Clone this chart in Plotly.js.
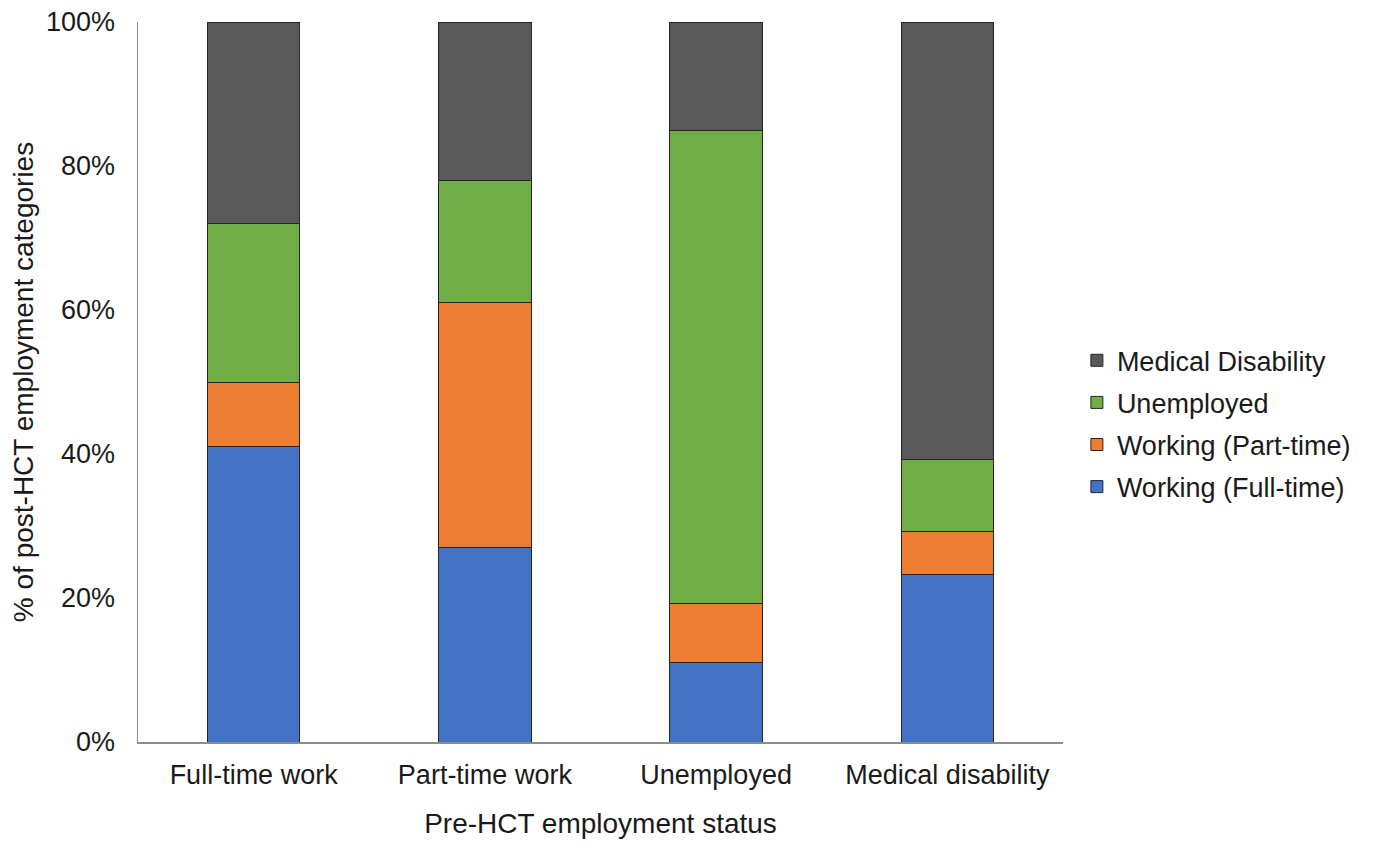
<!DOCTYPE html>
<html>
<head>
<meta charset="utf-8">
<script src="https://cdn.plot.ly/plotly-3.0.1.min.js"></script>
<style>html,body{margin:0;padding:0;background:#fff;}#chart{width:1373px;height:848px;}</style>
</head>
<body>
<div id="chart"></div>
<script>
const categories = ["Full-time work", "Part-time work", "Unemployed", "Medical disability"];
const workingFullTime = [41, 27, 11, 23.2];
const workingPartTime = [9, 34, 8.2, 6.1];
const unemployed = [22, 17, 65.8, 10.0];
const medicalDisability = [28, 22, 15, 60.7];
const seriesNames = ["Working (Full-time)", "Working (Part-time)", "Unemployed", "Medical Disability"];
const seriesColors = ["#4472C4", "#ED7D31", "#70AD47", "#595959"];
const yTickVals = [0, 20, 40, 60, 80, 100];
const yTickText = ["0%", "20%", "40%", "60%", "80%", "100%"];

const seriesValues = [workingFullTime, workingPartTime, unemployed, medicalDisability];
const traces = seriesValues.map((vals, i) => ({
  type: 'bar',
  name: seriesNames[i],
  legendgroup: 'g' + i,
  legendrank: 1000 - i,
  x: categories,
  y: vals,
  marker: {color: seriesColors[i], line: {color: '#262626', width: 1}},
  hoverinfo: 'skip'
}));

const fam = "'Liberation Sans', Arial, sans-serif";
const tickFont = {family: fam, size: 27, color: '#1a1a1a'};
const titleFont = {family: fam, size: 28, color: '#1a1a1a'};

const layout = {
  width: 1373, height: 848,
  margin: {l: 138, r: 310, t: 22, b: 106},
  paper_bgcolor: '#fff', plot_bgcolor: '#fff',
  barmode: 'stack',
  bargap: 0.6,
  font: tickFont,
  showlegend: true,
  legend: {
    traceorder: 'grouped',
    tracegroupgap: 4,
    x: 1.015, xanchor: 'left', y: 0.442, yanchor: 'middle',
    font: {family: fam, size: 27, color: '#1a1a1a'},
    bgcolor: 'rgba(0,0,0,0)'
  },
  xaxis: {
    type: 'category',
    showline: true, linecolor: '#8c8c8c', linewidth: 1.5,
    showgrid: false, zeroline: false,
    ticks: '', ticklen: 0, ticklabelstandoff: 8,
    tickfont: tickFont,
    title: {text: 'Pre-HCT employment status', font: titleFont, standoff: 24}
  },
  yaxis: {
    range: [0, 100],
    tickvals: yTickVals, ticktext: yTickText,
    showline: true, linecolor: '#8c8c8c', linewidth: 1.5,
    showgrid: false, zeroline: false,
    ticks: '', ticklen: 0, ticklabelstandoff: 16,
    tickfont: tickFont,
    title: {text: '% of post-HCT employment categories', font: titleFont, standoff: 4}
  }
};

Plotly.newPlot('chart', traces, layout, {displayModeBar: false, staticPlot: true});
</script>
</body>
</html>
